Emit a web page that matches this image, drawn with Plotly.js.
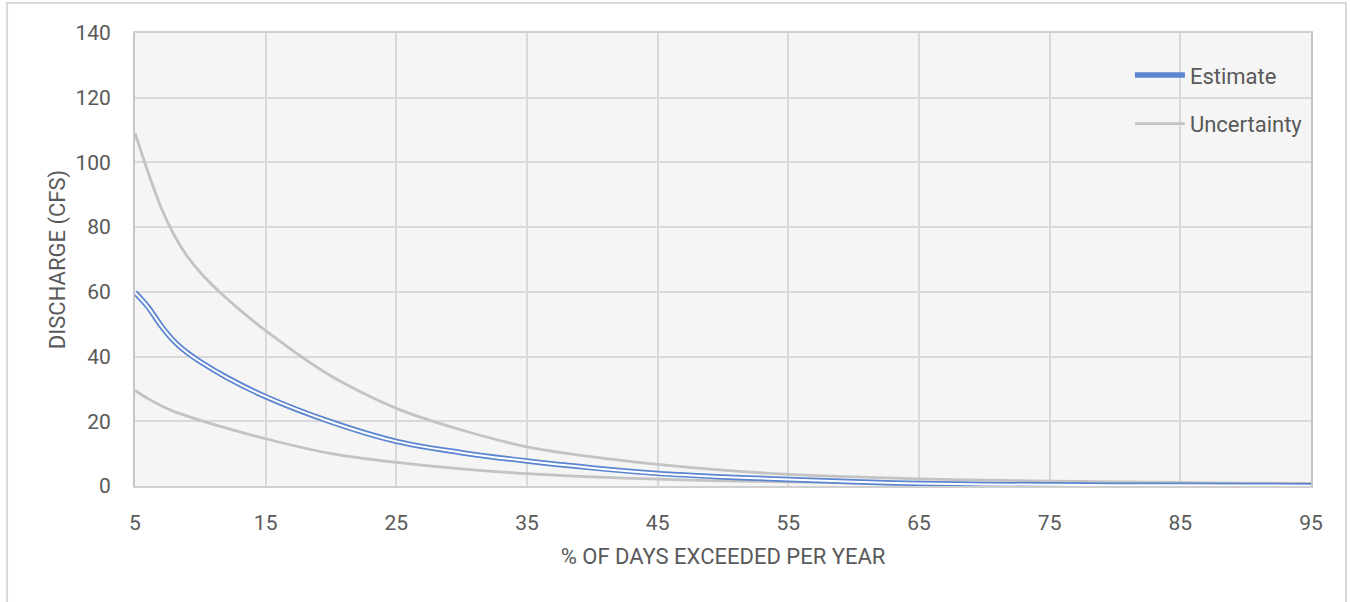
<!DOCTYPE html>
<html>
<head>
<meta charset="utf-8">
<script src="https://cdn.plot.ly/plotly-3.0.1.min.js"></script>
<style>
html,body{margin:0;padding:0;background:#fff;}
#chart{width:1351px;height:602px;}
</style>
</head>
<body>
<div id="chart"></div>
<script>
const exceedPct = [5,6,7,8,9,10,12,15,20,25,30,35,40,45,50,55,60,65,70,75,80,85,90,95];
const estimate  = [59.8,55.3,49.5,44.7,41.2,38.4,33.6,27.6,19.8,13.8,10.3,7.7,5.6,3.9,2.8,2.0,1.3,0.8,0.5,0.35,0.25,0.2,0.15,0.1];
const upperUnc  = [109,97,86,77.5,71,66,58,48,34,24,17.3,12.1,9.0,6.7,4.9,3.6,2.8,2.2,1.8,1.5,1.3,1.1,0.9,0.8];
const lowerUnc  = [29.5,27,24.8,23,21.6,20.3,17.9,14.6,10,7.3,5.3,3.8,2.8,2.1,1.6,1.3,1.0,0.8,0.6,0.5,0.4,0.35,0.3,0.3];
const xTicks = [5,15,25,35,45,55,65,75,85,95];
const yTicks = [0,20,40,60,80,100,120,140];

const FONT = "Roboto, 'Liberation Sans', sans-serif";
const TXT = '#595959';
const GRAY = '#c3c3c3';

const traces = [
  {x: exceedPct, y: upperUnc, type:'scatter', mode:'lines', name:'Uncertainty',
   line:{color:GRAY, width:2.8, shape:'spline', smoothing:0.8}, showlegend:false, legendgroup:'u', hoverinfo:'skip'},
  {x: exceedPct, y: lowerUnc, type:'scatter', mode:'lines', name:'Uncertainty',
   line:{color:GRAY, width:2.8, shape:'spline', smoothing:0.8}, showlegend:true, legendgroup:'u', legendrank:2},
  {x: exceedPct, y: estimate, type:'scatter', mode:'lines', name:'Estimate',
   line:{color:'#5b85d0', width:5.5, shape:'spline', smoothing:1}, showlegend:true, legendgroup:'e', legendrank:1},
  {x: exceedPct, y: estimate, type:'scatter', mode:'lines', name:'Estimate',
   line:{color:'#ffffff', width:2, shape:'spline', smoothing:1}, showlegend:false, legendgroup:'e', hoverinfo:'skip'}
];

const layout = {
  width:1351, height:602,
  margin:{l:135, r:40, t:33, b:116},
  paper_bgcolor:'#ffffff',
  plot_bgcolor:'#f5f5f5',
  font:{family:FONT, color:TXT, size:21},
  showlegend:true,
  legend:{x:0.846, y:0.953, xanchor:'left', yanchor:'top', bgcolor:'rgba(0,0,0,0)',
          font:{family:FONT, size:22, color:TXT}, tracegroupgap:17, itemwidth:50},
  xaxis:{range:[5,95], tickvals:xTicks, ticktext:xTicks.map(String),
         showgrid:true, gridcolor:'#d9d9d9', gridwidth:2,
         showline:true, linecolor:'#cfcfcf', linewidth:2, mirror:true,
         zeroline:false, ticks:'', ticklabelstandoff:17,
         tickfont:{family:FONT, size:21, color:TXT},
         title:{text:'% OF DAYS EXCEEDED PER YEAR', font:{family:FONT, size:22, color:TXT}, standoff:14}},
  yaxis:{range:[0,140], tickvals:yTicks, ticktext:yTicks.map(String),
         showgrid:true, gridcolor:'#d9d9d9', gridwidth:2,
         showline:true, linecolor:'#c6c6c6', linewidth:2, mirror:true,
         zeroline:false, ticks:'', ticklabelstandoff:18,
         tickfont:{family:FONT, size:21, color:TXT},
         title:{text:'DISCHARGE (CFS)', font:{family:FONT, size:22, color:TXT}, standoff:4}},
  shapes:[
    {type:'rect', xref:'paper', yref:'paper', x0:-0.1088, x1:1.0298, y0:-0.3, y1:1.066,
     line:{color:'#d9d9d9', width:2}, fillcolor:'rgba(0,0,0,0)', layer:'below'}
  ]
};

Plotly.newPlot('chart', traces, layout, {displayModeBar:false, staticPlot:true});
</script>
</body>
</html>
